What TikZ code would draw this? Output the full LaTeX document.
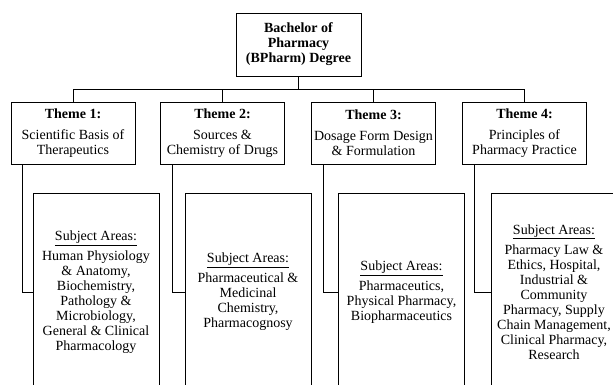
\documentclass[tikz,border=0pt]{standalone}
\usepackage{fontspec}
\setmainfont{Liberation Serif}
\usepackage{tikz}
\usetikzlibrary{positioning}
\tikzset{box/.style = {draw, line width = 0.8pt, inner sep = 0, align = center, font = \fontsize{14}{15}\selectfont}}
\tikzset{deg/.style = {box, minimum width = 125, minimum height = 63}}
\tikzset{theme/.style = {box, minimum width = 124, minimum height = 62}}
\tikzset{subj/.style = {box, minimum width = 126, minimum height = 198}}
\tikzset{link/.style = {line width = 0.8pt}}

\begin{document}
\begin{tikzpicture}[x=1pt, y=-1pt]
  \useasboundingbox [fill=white] (0, 0) rectangle (613, 385);
  \clip (0, 0) rectangle (613, 385);
  \node [deg] (deg) at (298.5, 44.5) {\textbf{Bachelor of}\\\textbf{Pharmacy}\\\textbf{(BPharm) Degree}};
  \node [theme] (t1) at (73, 133) {\textbf{Theme 1:}\\[6pt]Scientific Basis of\\Therapeutics};
  \node [theme] (t2) at (222.5, 133) {\textbf{Theme 2:}\\[6pt]Sources \&\\Chemistry of Drugs};
  \node [theme] (t3) at (373.5, 133) {\textbf{Theme 3:}\\[6pt]Dosage Form Design\\\& Formulation};
  \node [theme] (t4) at (524.5, 133) {\textbf{Theme 4:}\\[6pt]Principles of\\Pharmacy Practice};
  \node [subj] (s1) at (96, 292) {\underline{Subject Areas:}\\[5pt]Human Physiology\\\& Anatomy,\\Biochemistry,\\Pathology \&\\Microbiology,\\General \& Clinical\\Pharmacology};
  \node [subj] (s2) at (248, 292) {\underline{Subject Areas:}\\[5pt]Pharmaceutical \&\\Medicinal\\Chemistry,\\Pharmacognosy};
  \node [subj] (s3) at (401.5, 292) {\underline{Subject Areas:}\\[5pt]Pharmaceutics,\\Physical Pharmacy,\\Biopharmaceutics};
  \node [subj] (s4) at (554, 292) {\underline{Subject Areas:}\\[5pt]Pharmacy Law \&\\Ethics, Hospital,\\Industrial \&\\Community\\Pharmacy, Supply\\Chain Management,\\Clinical Pharmacy,\\Research};
  \draw [link] (deg.south) -- ++(0, 13) coordinate (bus);
  \foreach \i in {1,...,4} {
    \draw [link] (bus) -| (t\i.north);
    \draw [link] ([xshift=12pt]t\i.south west) |- (s\i.west);
  }
\end{tikzpicture}
\end{document}
